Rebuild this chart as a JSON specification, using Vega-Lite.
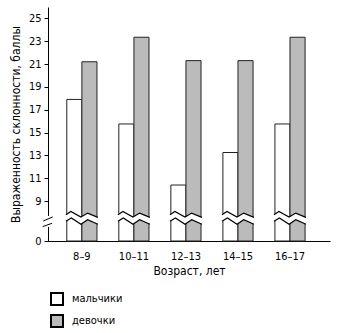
{
  "$schema": "https://vega.github.io/schema/vega-lite/v6.json",
  "autosize": "none",
  "width": 282,
  "height": 234,
  "padding": {"left": 48, "top": 7, "right": 8, "bottom": 92},
  "background": "white",
  "config": {
    "font": "Liberation Sans Narrow, DejaVu Sans Condensed, Liberation Sans",
    "view": {"stroke": null},
    "axis": {"labelColor": "#000", "titleColor": "#000", "domainColor": "#000", "tickColor": "#000", "labelFontSize": 11, "titleFontSize": 12, "titleFontWeight": "normal", "grid": false, "zindex": 0, "labelOverlap": false}
  },
  "data": {
    "values": [
      {"age": "8–9", "gender": "мальчики", "score": 17.9},
      {"age": "8–9", "gender": "девочки", "score": 21.2},
      {"age": "10–11", "gender": "мальчики", "score": 15.75},
      {"age": "10–11", "gender": "девочки", "score": 23.35},
      {"age": "12–13", "gender": "мальчики", "score": 10.4},
      {"age": "12–13", "gender": "девочки", "score": 21.3},
      {"age": "14–15", "gender": "мальчики", "score": 13.25},
      {"age": "14–15", "gender": "девочки", "score": 21.3},
      {"age": "16–17", "gender": "мальчики", "score": 15.75},
      {"age": "16–17", "gender": "девочки", "score": 23.35}
    ]
  },
  "encoding": {
    "x": {
      "field": "age", "type": "nominal", "sort": null,
      "scale": {"paddingInner": 0.42, "paddingOuter": 0.42, "align": 0.43},
      "axis": {"title": "Возраст, лет", "labelAngle": 0, "ticks": false, "labelPadding": 9, "titlePadding": 4, "domainWidth": 1}
    }
  },
  "layer": [
    {
      "mark": {"type": "bar", "stroke": "#222", "strokeWidth": 1},
      "encoding": {
        "xOffset": {"field": "gender", "type": "nominal", "sort": ["мальчики", "девочки"], "scale": {"paddingInner": 0, "paddingOuter": 0}},
        "y": {
          "field": "score", "type": "quantitative",
          "scale": {"domain": [0, 9, 26], "range": [234, 194, 0], "nice": false, "zero": false},
          "axis": {"title": "Выраженность склонности, баллы", "values": [0, 9, 11, 13, 15, 17, 19, 21, 23, 25], "tickCount": 30, "labelOverlap": false, "tickSize": 4, "labelPadding": 3, "titlePadding": 6}
        },
        "fill": {
          "field": "gender", "type": "nominal", "sort": ["мальчики", "девочки"],
          "scale": {"domain": ["мальчики", "девочки"], "range": ["#ffffff", "#bbbbbb"]},
          "legend": {
            "title": null, "orient": "none", "legendX": 2, "legendY": 285,
            "symbolType": "square", "symbolSize": 144, "symbolStrokeWidth": 2, "symbolStrokeColor": "#000",
            "labelFontSize": 11, "labelColor": "#000", "rowPadding": 2, "labelOffset": 8
          }
        }
      }
    },
    {
      "transform": [{"filter": "datum.gender === 'мальчики'"}],
      "mark": {"type": "point", "filled": true, "fill": "#ffffff", "strokeWidth": 0, "opacity": 1, "size": 1024,
        "shape": "M-1,-0.2 L-0.69,-0.4 L-0.06,-0.05 L0.36,-0.3 L1,-0.03 L1,0.4 L0.36,0.11 L-0.06,0.4 L-0.66,0.01 L-1,0.21 Z"},
      "encoding": {"y": {"datum": 5.2, "type": "quantitative"}}
    },
    {
      "transform": [{"filter": "datum.gender === 'мальчики'"}],
      "mark": {"type": "point", "filled": false, "stroke": "#000", "strokeWidth": 1.2, "opacity": 1, "size": 1024,
        "shape": "M-1,-0.2 L-0.69,-0.4 L-0.06,-0.05 L0.36,-0.3 L1,-0.03 M-1,0.21 L-0.66,0.01 L-0.06,0.4 L0.36,0.11 L1,0.4"},
      "encoding": {"y": {"datum": 5.2, "type": "quantitative"}}
    },
    {
      "transform": [{"filter": "datum.age === '8–9' && datum.gender === 'мальчики'"}],
      "mark": {"type": "point", "filled": true, "fill": "#ffffff", "strokeWidth": 0, "opacity": 1, "size": 256,
        "shape": "M-0.3,-0.69 L0.3,-0.69 L0.3,0.69 L-0.3,0.69 Z"},
      "encoding": {"x": {"value": 0}, "y": {"datum": 4.4, "type": "quantitative"}}
    },
    {
      "transform": [{"filter": "datum.age === '8–9' && datum.gender === 'мальчики'"}],
      "mark": {"type": "point", "filled": false, "stroke": "#000", "strokeWidth": 1, "opacity": 1, "size": 256,
        "shape": "M-0.59,-0.06 L0.59,-0.56 M-0.66,0.65 L0.5,0.23"},
      "encoding": {"x": {"value": 0}, "y": {"datum": 4.4, "type": "quantitative"}}
    }
  ]
}
